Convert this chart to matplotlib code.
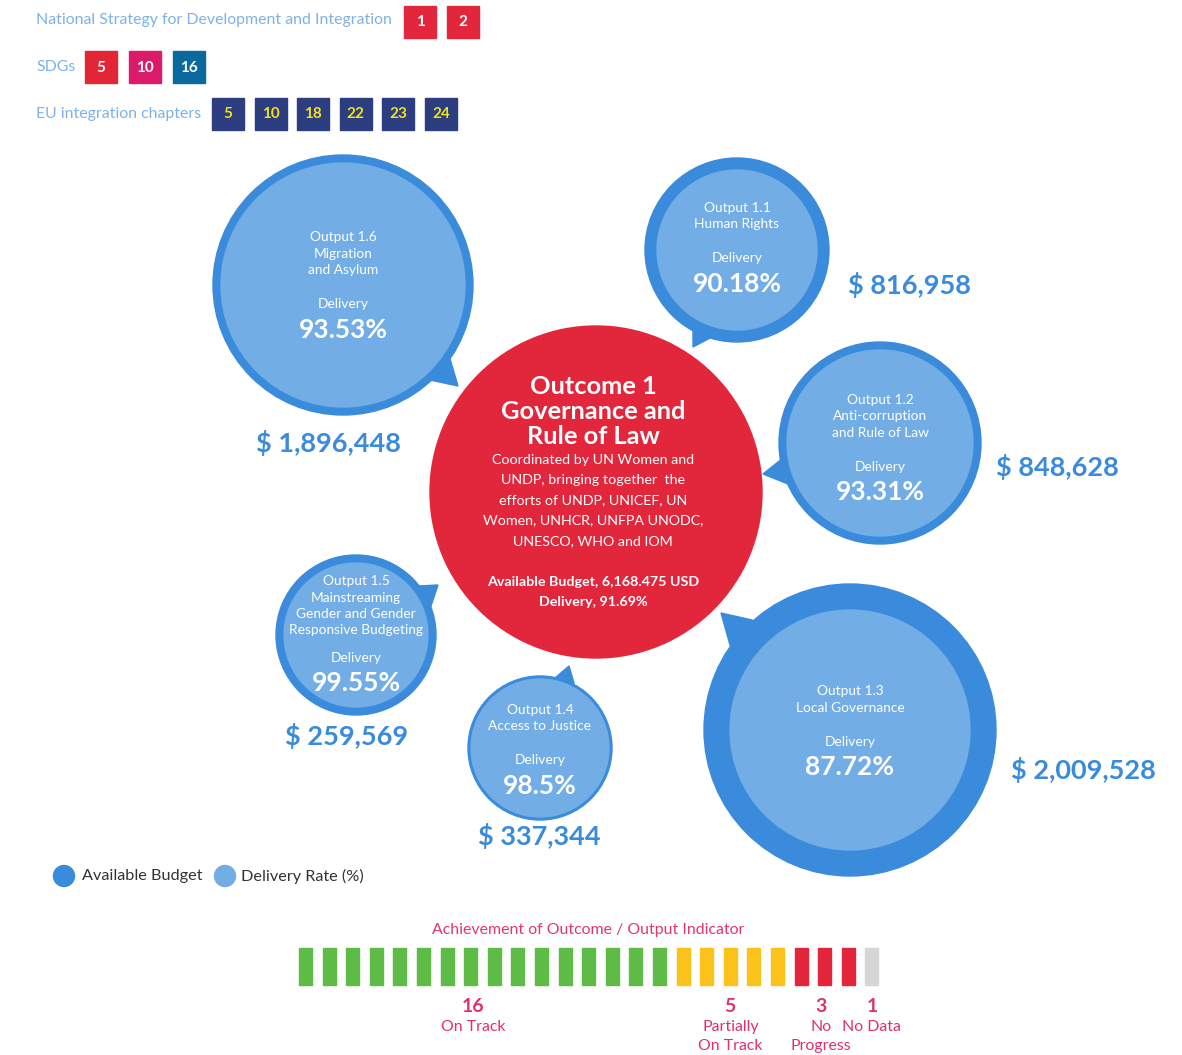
import matplotlib
matplotlib.use("Agg")
import matplotlib.pyplot as plt
from matplotlib.patches import Circle, Polygon, Rectangle

plt.rcParams['font.family'] = ['Lato', 'DejaVu Sans']

# ---------------- data ----------------
nsdi_items = ["1", "2"]
sdg_items = ["5", "10", "16"]
eu_chapters = ["5", "10", "18", "22", "23", "24"]

output_ids = ["1.6", "1.1", "1.2", "1.3", "1.5", "1.4"]
output_names = [["Migration", "and Asylum"], ["Human Rights"],
                ["Anti-corruption", "and Rule of Law"], ["Local Governance"],
                ["Mainstreaming", "Gender and Gender", "Responsive Budgeting"],
                ["Access to Justice"]]
output_delivery = ["93.53%", "90.18%", "93.31%", "87.72%", "99.55%", "98.5%"]
output_budget = ["$ 1,896,448", "$ 816,958", "$ 848,628", "$ 2,009,528", "$ 259,569", "$ 337,344"]

outcome_title = ["Outcome 1", "Governance and", "Rule of Law"]
outcome_body = ["Coordinated by UN Women and", "UNDP, bringing together  the",
                "efforts of UNDP, UNICEF, UN", "Women, UNHCR, UNFPA UNODC,",
                "UNESCO, WHO and IOM"]
outcome_budget = "Available Budget, 6,168.475 USD"
outcome_delivery = "Delivery, 91.69%"

status_labels = [["On Track"], ["Partially", "On Track"], ["No", "Progress"], ["No Data"]]
status_counts = [16, 5, 3, 1]

# ---------------- layout / style ----------------
OUTER = "#3A8BDC"
INNER = "#72ADE5"
RED = "#E2263B"
PINK = "#E0306A"
LBLUE = "#7DB2E8"

# center x, center y, outer r, inner r, tail (base1, tip, base2), text y start
layout = [
    (343, 285, 130, 122, [(448, 352), (458, 386), (430, 380)], 237),
    (737, 250, 92, 80, [(693, 328), (693, 347), (714, 336)], 208),
    (880, 443, 101, 93, [(783, 458), (763, 474), (788, 484)], 400),
    (850, 730, 146, 120, [(752, 620), (721, 613), (730, 645)], 691),
    (356, 635, 80, 72, [(418, 586), (438, 585), (431, 606)], 581),
    (540, 748, 72, 69, [(555, 678), (569, 666), (574, 683)], 710),
]
budget_pos = [(328, 443), (909, 285), (1057, 467), (1083, 770), (347, 736), (539, 836)]

fig = plt.figure(figsize=(11.82, 10.55), dpi=100)
ax = fig.add_axes([0, 0, 1, 1])
ax.set_xlim(0, 1182)
ax.set_ylim(1055, 0)
ax.axis("off")

# ---- top badges ----
def badges(x0, y, items, colors, tcolor, gap):
    x = x0
    for it, c in zip(items, colors):
        ax.add_patch(Rectangle((x, y - 16), 32, 32, color=c, zorder=2))
        ax.text(x + 16, y + 0.5, it, color=tcolor, ha="center", va="center",
                fontsize=11, fontweight="bold", zorder=3)
        x += gap

ax.text(36, 20, "National Strategy for Development and Integration", color=LBLUE,
        fontsize=11.4, va="center", ha="left")
badges(404, 22, nsdi_items, [RED, RED], "white", 43)
ax.text(36, 67, "SDGs", color=LBLUE, fontsize=11.4, va="center", ha="left")
badges(85, 67, sdg_items, ["#E32636", "#DC1A6A", "#0A6A9E"], "white", 44)
ax.text(36, 114, "EU integration chapters", color=LBLUE, fontsize=11.4, va="center", ha="left")
badges(212, 114, eu_chapters, ["#2C3E7F"] * 6, "#F3E21C", 42.6)

# ---- central outcome ----
ax.add_patch(Circle((596, 492), 166, color=RED, zorder=4))
for i, t in enumerate(outcome_title):
    ax.text(593, 387 + i * 24.5, t, color="white", fontsize=18.3, fontweight="bold",
            ha="center", va="center", zorder=5)
for i, t in enumerate(outcome_body):
    ax.text(593, 460 + i * 20.2, t, color="white", fontsize=10.3,
            ha="center", va="center", zorder=5)
ax.text(593, 582, outcome_budget, color="white", fontsize=10.3, fontweight="bold",
        ha="center", va="center", zorder=5)
ax.text(593, 602, outcome_delivery, color="white", fontsize=10.3, fontweight="bold",
        ha="center", va="center", zorder=5)

# ---- output bubbles ----
for (cx, cy, ro, ri, tail, ty), oid, names, dlv, bud, bp in zip(
        layout, output_ids, output_names, output_delivery, output_budget, budget_pos):
    ax.add_patch(Circle((cx, cy), ro, color=OUTER, zorder=6))
    b1, tip, b2 = tail
    ax.add_patch(Polygon([b1, tip, b2, (cx, cy)], closed=True, color=OUTER, zorder=6))
    ax.add_patch(Circle((cx, cy), ri, color=INNER, zorder=7))
    lines = ["Output " + oid] + names
    for i, t in enumerate(lines):
        ax.text(cx, ty + i * 16.5, t, color="white", fontsize=9.9,
                ha="center", va="center", zorder=8)
    yd = ty + (len(lines) - 1) * 16.5 + 34 if len(lines) < 4 else ty + (len(lines) - 1) * 16.5 + 27
    ax.text(cx, yd, "Delivery", color="white", fontsize=9.9, ha="center", va="center", zorder=8)
    ax.text(cx, yd + 25.5, dlv, color="white", fontsize=19, fontweight="bold",
            ha="center", va="center", zorder=8)
    ax.text(bp[0], bp[1], bud, color=OUTER, fontsize=19.5, fontweight="bold",
            ha="center", va="center", zorder=8)

# ---- legend ----
ax.add_patch(Circle((64, 876), 10.5, color=OUTER, zorder=3))
ax.text(82, 876, "Available Budget", color="#333333", fontsize=11.7, va="center", ha="left")
ax.add_patch(Circle((225, 876), 10.5, color=INNER, zorder=3))
ax.text(241, 876, "Delivery Rate (%)", color="#333333", fontsize=11.7, va="center", ha="left")

# ---- indicator bar ----
ax.text(588, 930, "Achievement of Outcome / Output Indicator", color="#E23768",
        fontsize=11.4, ha="center", va="center")
status_colors = ["#5DBB46", "#FBC31A", "#E3263B", "#D6D6D6"]
x0, step, bw = 299, 23.6, 13
idx = 0
for cnt, labs, col in zip(status_counts, status_labels, status_colors):
    start = idx
    for k in range(cnt):
        ax.add_patch(Rectangle((x0 + idx * step, 948), bw, 37, color=col, zorder=3))
        idx += 1
    cxg = x0 + (start + idx - 1) / 2 * step + bw / 2
    if cnt == 16:
        cxg -= 9
    elif cnt == 3:
        cxg -= 4
    ax.text(cxg, 1007, str(cnt), color=PINK, fontsize=14, fontweight="bold",
            ha="center", va="center")
    for j, lab in enumerate(labs):
        ax.text(cxg, 1027 + j * 19, lab, color=PINK, fontsize=11.4,
                ha="center", va="center")

fig.savefig("out.png", dpi=100)
